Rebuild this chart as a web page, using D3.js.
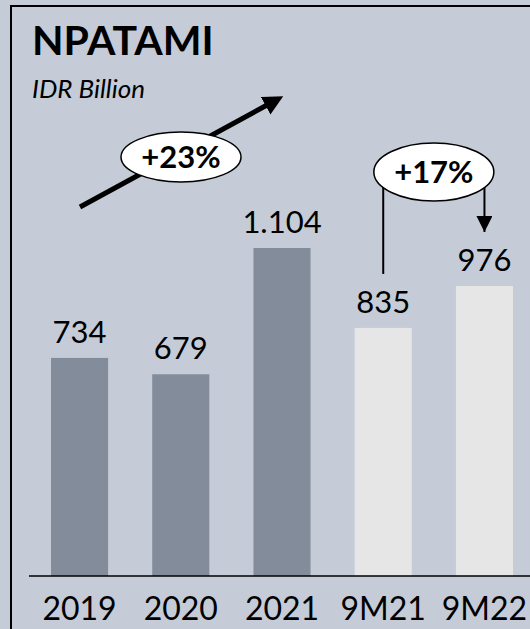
<!DOCTYPE html>
<html>
<head>
<meta charset="utf-8">
<script src="https://cdn.jsdelivr.net/npm/d3@7/dist/d3.min.js"></script>
<style>
  body { margin: 0; background: #c5ccd7; }
  svg { display: block; font-family: Lato, "Open Sans", sans-serif; }
</style>
</head>
<body>
<svg id="chart" width="530" height="629"></svg>
<script>
const categories = ["2019", "2020", "2021", "9M21", "9M22"];
const values = [734, 679, 1104, 835, 976];
const valueLabels = ["734", "679", "1.104", "835", "976"];
const barKind = ["full", "full", "full", "ytd", "ytd"];
const growth = [
  { label: "+23%", from: "2019", to: "2021" },
  { label: "+17%", from: "9M21", to: "9M22" }
];

const width = 530, height = 629;
const base = 576;
const svg = d3.select("#chart");

svg.append("rect")
  .attr("width", width).attr("height", height)
  .attr("fill", "#c5ccd7");

// frame, runs off the right and bottom edge
svg.append("rect")
  .attr("x", 11).attr("y", 6)
  .attr("width", 600).attr("height", 700)
  .attr("fill", "none")
  .attr("stroke", "#000")
  .attr("stroke-width", 2);

const x = d3.scaleBand()
  .domain(categories)
  .range([51, 513])
  .paddingInner(0.436)
  .paddingOuter(0);

const y = d3.scaleLinear()
  .domain([0, 1104])
  .range([base, 248]);

const colors = d3.scaleOrdinal()
  .domain(["full", "ytd"])
  .range(["#838c9a", "#e6e6e6"]);

const data = categories.map((c, i) => ({ cat: c, value: values[i], label: valueLabels[i], kind: barKind[i] }));

svg.selectAll("rect.bar")
  .data(data)
  .enter()
  .append("rect")
  .attr("class", "bar")
  .attr("x", d => x(d.cat))
  .attr("y", d => y(d.value))
  .attr("width", x.bandwidth())
  .attr("height", d => base - y(d.value))
  .attr("fill", d => colors(d.kind));

svg.selectAll("text.val")
  .data(data)
  .enter()
  .append("text")
  .attr("class", "val")
  .attr("x", d => x(d.cat) + x.bandwidth() / 2)
  .attr("y", d => y(d.value) - 15)
  .attr("text-anchor", "middle")
  .style("font-size", "31px")
  .attr("fill", "#000")
  .text(d => d.label);

// axis
const axis = svg.append("g")
  .attr("transform", `translate(0, ${base})`)
  .call(d3.axisBottom(x).tickSize(0).tickPadding(21));
axis.select(".domain").remove();
axis.append("line")
  .attr("x1", 29).attr("x2", width)
  .attr("stroke", "#000").attr("stroke-width", 1.5);
axis.selectAll(".tick text")
  .style("font-family", "Lato, 'Open Sans', sans-serif")
  .style("font-size", "32px")
  .attr("fill", "#000");

// titles
svg.append("text")
  .attr("x", 32).attr("y", 55)
  .style("font-size", "41px")
  .style("font-weight", "bold")
  .text("NPATAMI");
svg.append("text")
  .attr("x", 32).attr("y", 98)
  .style("font-size", "26px")
  .style("font-style", "italic")
  .text("IDR Billion");

const defs = svg.append("defs");
defs.append("marker")
  .attr("id", "head")
  .attr("viewBox", "0 0 10 10")
  .attr("refX", 5).attr("refY", 5)
  .attr("markerWidth", 4).attr("markerHeight", 4)
  .attr("markerUnits", "strokeWidth")
  .attr("orient", "auto")
  .append("path")
  .attr("d", "M0,0 L10,5 L0,10 Z")
  .attr("fill", "#000");
defs.append("marker")
  .attr("id", "head2")
  .attr("viewBox", "0 0 10 10")
  .attr("refX", 10).attr("refY", 5)
  .attr("markerWidth", 8).attr("markerHeight", 8)
  .attr("markerUnits", "strokeWidth")
  .attr("orient", "auto")
  .append("path")
  .attr("d", "M0,0 L10,5 L0,10 Z")
  .attr("fill", "#000");

// +23% growth arrow
const g1 = growth[0];
const ax0 = x(g1.from) + 29, ay0 = 207;
const ax1 = x(g1.to) + 29, ay1 = 97;
svg.append("line")
  .attr("x1", ax0).attr("y1", ay0)
  .attr("x2", ax1 - 8).attr("y2", ay1 + 4)
  .attr("stroke", "#000")
  .attr("stroke-width", 5)
  .attr("marker-end", "url(#head)");
const c1x = 181;
svg.append("ellipse")
  .attr("cx", c1x).attr("cy", 157)
  .attr("rx", 60).attr("ry", 25)
  .attr("fill", "#fff").attr("stroke", "#000").attr("stroke-width", 1.5);
svg.append("text")
  .attr("x", c1x).attr("y", 168)
  .attr("text-anchor", "middle")
  .style("font-size", "31px")
  .style("font-weight", "bold")
  .text(g1.label);

// +17% bracket
const g2 = growth[1];
const lx = x(g2.from) + x.bandwidth() / 2, rx = x(g2.to) + x.bandwidth() / 2;
const c2x = (lx + rx) / 2;
svg.append("line")
  .attr("x1", lx).attr("y1", 180)
  .attr("x2", lx).attr("y2", y(values[3]) - 54)
  .attr("stroke", "#000").attr("stroke-width", 2);
svg.append("line")
  .attr("x1", rx).attr("y1", 180)
  .attr("x2", rx).attr("y2", y(values[4]) - 54)
  .attr("stroke", "#000").attr("stroke-width", 2)
  .attr("marker-end", "url(#head2)");
svg.append("ellipse")
  .attr("cx", c2x).attr("cy", 172)
  .attr("rx", 60).attr("ry", 29)
  .attr("fill", "#fff").attr("stroke", "#000").attr("stroke-width", 1.5);
svg.append("text")
  .attr("x", c2x).attr("y", 183)
  .attr("text-anchor", "middle")
  .style("font-size", "31px")
  .style("font-weight", "bold")
  .text(g2.label);
</script>
</body>
</html>
